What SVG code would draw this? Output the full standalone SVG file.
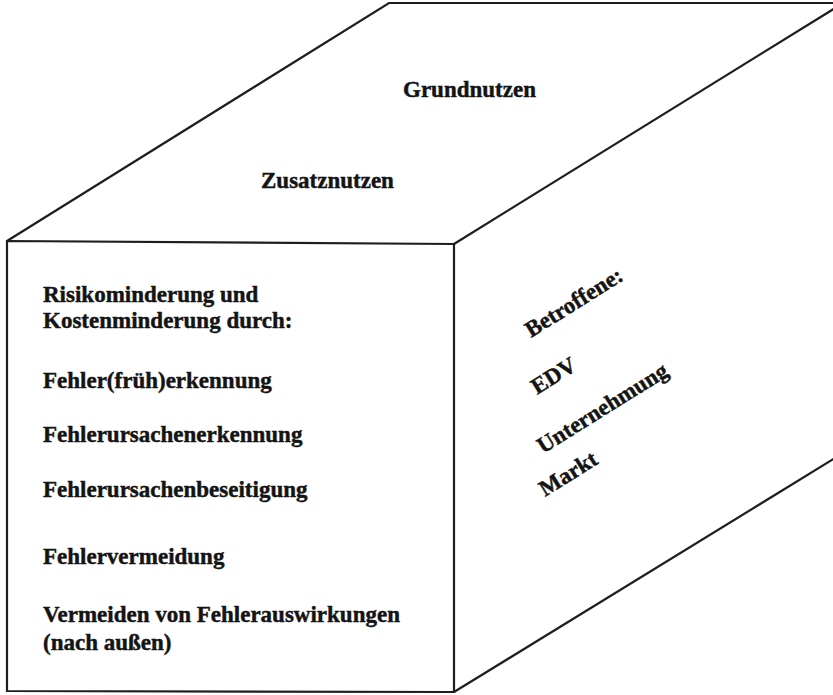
<svg xmlns="http://www.w3.org/2000/svg" width="833" height="695" viewBox="0 0 833 695">
<style>
.edge{fill:none;stroke:#1e1e1e;stroke-width:2.2;stroke-linejoin:miter}
.t{font-family:"Liberation Serif","Times New Roman",serif;font-weight:bold;font-size:23px;fill:#141414;stroke:#141414;stroke-width:0.45}
</style>
<rect width="833" height="695" fill="#ffffff"/>
<g id="box">
<polygon class="edge" points="7,241 454,244 454,692 7,691"/>
<polyline class="edge" points="7,241 389,3 840,3"/>
<line class="edge" x1="454" y1="244" x2="840" y2="5"/>
<line class="edge" x1="454" y1="692" x2="840" y2="455"/>
</g>
<g id="top-face">
<text class="t" x="403" y="97">Grundnutzen</text>
<text class="t" x="261" y="188">Zusatznutzen</text>
</g>
<g id="front-face">
<text class="t" x="43" y="302">Risikominderung und</text>
<text class="t" x="43" y="328">Kostenminderung durch:</text>
<text class="t" x="43" y="388">Fehler(früh)erkennung</text>
<text class="t" x="43" y="442">Fehlerursachenerkennung</text>
<text class="t" x="43" y="497">Fehlerursachenbeseitigung</text>
<text class="t" x="43" y="564">Fehlervermeidung</text>
<text class="t" x="43" y="622">Vermeiden von Fehlerauswirkungen</text>
<text class="t" x="43" y="650">(nach außen)</text>
</g>
<g id="side-face">
<text class="t" transform="translate(531,338) rotate(-32)">Betroffene:</text>
<text class="t" transform="translate(537,395) rotate(-32)">EDV</text>
<text class="t" transform="translate(543,454) rotate(-32)">Unternehmung</text>
<text class="t" transform="translate(545,497) rotate(-32)">Markt</text>
</g>
</svg>
